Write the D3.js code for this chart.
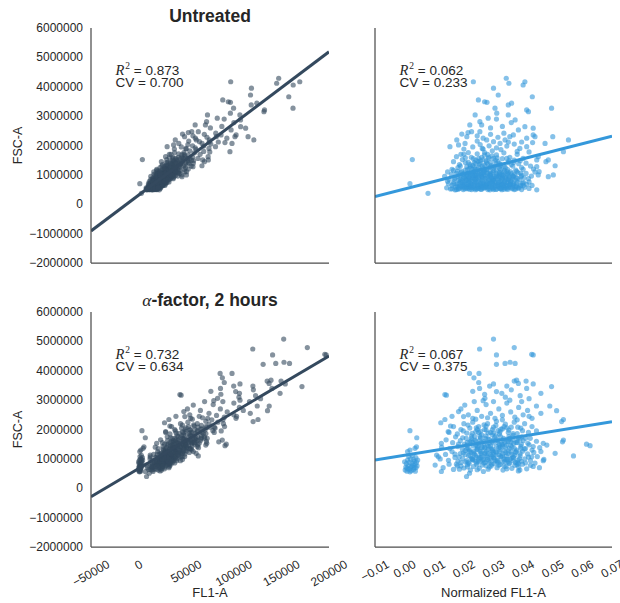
<!DOCTYPE html>
<html>
<head>
<meta charset="utf-8">
<script src="https://cdn.jsdelivr.net/npm/d3@7"></script>
<style>
  html, body { margin: 0; padding: 0; background: #fff; }
  text { font-family: "Liberation Sans", Arial, Helvetica, sans-serif; fill: #262626; }
</style>
</head>
<body>
<svg id="chart" width="620" height="603"></svg>
<script>
// Each cell: [normalized FL1-A (FL1-A / FSC-A), FSC-A in thousands]
const untreatedCells = [
  // sparse cells
  [.0026,1520],[.0018,700],[.0079,372],[.0232,4170],[.0343,4290],[.0352,4120],[.0406,4170],[.0400,4060],
  [.0300,3950],[.0270,3490],[.0278,3470],[.0249,3550],[.0316,3720],[.0350,3380],[.0361,3440],[.0431,3660],
  [.0496,3270],[.0412,3210],[.0418,3150],[.0305,3270],[.0311,3100],[.0238,3040],[.0350,3040],[.0373,2870],
  [.0254,2810],[.0282,2930],[.0214,2440],[.0226,2470],[.0193,2390],[.0254,2470],[.0384,2530],[.0406,2640],
  [.0434,2590],[.0434,2360],[.0440,2300],[.0500,2300],[.0474,2070],[.0553,2190],[.0536,1790],[.0451,1620],
  [.0477,1450],[.0485,1510],[.0502,1000],[.0485,940],[.0451,1000],[.0446,1510],[.0412,1960],[.0389,1900],
  [.0432,2100],[.0182,2020],[.0204,2070],[.0176,2190],[.0153,1960],[.0277,2190],[.0300,2130],[.0322,2070],
  [.0339,2190],[.0367,2360],[.0412,2250],[.0220,2700],[.0446,490],[.0508,1310],[.0446,1280],[.0454,1110],
  // 1.8M - 2.9M
  [.0210,2300],[.0245,2330],[.0265,2250],[.0290,2380],[.0315,2280],[.0335,2420],[.0355,2300],[.0290,2600],
  [.0330,2650],[.0260,2700],[.0360,2780],[.0310,2900],[.0200,1880],[.0230,1950],[.0255,2030],[.0285,1990],
  [.0310,1920],[.0345,1980],[.0370,2050],[.0395,2120],[.0350,2120],[.0245,2150],[.0265,1880],[.0325,1860],
  [.0380,1800],[.0420,1780],[.0215,1760],[.0190,1700],[.0296,1820],[.0262,1900],
  // 1.2M - 1.8M
  [.0165,1450],[.0175,1620],[.0185,1350],[.0195,1520],[.0200,1700],[.0210,1280],[.0215,1430],[.0225,1600],
  [.0230,1320],[.0240,1500],[.0245,1720],[.0250,1250],[.0255,1400],[.0260,1600],[.0270,1330],[.0275,1480],
  [.0280,1700],[.0285,1250],[.0290,1420],[.0300,1560],[.0305,1300],[.0310,1680],[.0315,1450],[.0325,1350],
  [.0330,1550],[.0335,1750],[.0340,1250],[.0350,1420],[.0355,1600],[.0365,1300],[.0370,1500],[.0380,1700],
  [.0385,1380],[.0395,1250],[.0400,1560],[.0410,1400],[.0425,1300],[.0435,1200],[.0180,1250],[.0205,1580],
  [.0235,1420],[.0265,1520],[.0295,1650],[.0320,1220],[.0345,1560],[.0360,1350],[.0390,1480],[.0270,1760],
  [.0220,1230],[.0250,1560],
  [.0188,1300],[.0205,1420],[.0220,1350],[.0235,1260],[.0248,1460],[.0262,1300],[.0276,1410],[.0292,1320],
  [.0306,1500],[.0320,1380],[.0336,1290],[.0352,1480],[.0368,1420],[.0240,1380],[.0300,1230],[.0283,1550],
  [.0222,1300],[.0238,1200],[.0252,1350],[.0266,1240],[.0280,1380],[.0294,1270],[.0308,1400],[.0322,1300],
  [.0256,1480],[.0284,1600],[.0312,1580],[.0270,1680],[.0232,1550],
  // 0.8M - 1.2M
  [.0135,950],[.0145,1100],[.0150,850],[.0158,1020],[.0165,1150],[.0170,900],[.0175,1050],[.0182,820],
  [.0188,980],[.0192,1130],[.0198,870],[.0203,1060],[.0208,940],[.0213,1180],[.0218,830],[.0222,1010],
  [.0228,900],[.0233,1120],[.0238,980],[.0242,860],[.0247,1070],[.0252,930],[.0257,1160],[.0262,820],
  [.0266,1000],[.0271,890],[.0276,1100],[.0281,960],[.0286,840],[.0291,1050],[.0296,920],[.0301,1140],
  [.0306,870],[.0311,1000],[.0316,930],[.0321,1090],[.0327,820],[.0332,980],[.0337,1150],[.0342,890],
  [.0347,1030],[.0353,940],[.0358,1100],[.0364,860],[.0370,1000],[.0376,920],[.0382,1080],[.0388,830],
  [.0395,980],[.0403,900],[.0410,1050],[.0418,870],[.0428,960],[.0440,1100],[.0160,1190],[.0190,1080],
  [.0215,870],[.0245,1190],[.0270,1170],[.0300,820],[.0325,1180],[.0350,850],[.0375,1160],[.0400,1190],
  [.0230,1040],[.0260,950],[.0290,990],[.0320,960],[.0350,1070],[.0280,1060],[.0240,910],[.0210,1000],
  [.0330,900],[.0365,960],
  [.0168,860],[.0180,950],[.0193,820],[.0203,900],[.0213,960],[.0223,840],[.0233,920],[.0243,990],
  [.0253,850],[.0263,910],[.0273,970],[.0283,820],[.0293,880],[.0303,950],[.0313,860],[.0323,920],
  [.0333,990],[.0343,840],[.0355,900],[.0367,960],[.0380,880],[.0393,940],[.0236,860],[.0296,800],
  [.0258,990],
  [.0178,1120],[.0195,1020],[.0205,1160],[.0218,1080],[.0228,1190],[.0240,1030],[.0252,1110],[.0264,1060],
  [.0276,1180],[.0288,1010],[.0298,1090],[.0310,1170],[.0322,1030],[.0335,1100],[.0348,1180],[.0362,1040],
  [.0378,1120],[.0392,1060],[.0268,1130],[.0232,1080],
  [.0187,850],[.0199,930],[.0209,810],[.0219,900],[.0229,980],[.0239,830],[.0249,900],[.0259,1040],
  [.0269,820],[.0279,900],[.0289,950],[.0299,870],[.0309,930],[.0319,1040],[.0329,860],[.0339,930],
  [.0349,1000],[.0359,810],[.0228,1000],[.0248,1030],[.0268,1080],[.0288,1120],[.0308,1060],[.0328,1020],
  [.0215,1050],[.0345,1120],
  // 0.48M - 0.8M
  [.0142,560],[.0148,700],[.0155,520],[.0160,640],[.0166,760],[.0171,580],[.0176,690],[.0181,510],
  [.0186,620],[.0191,740],[.0196,560],[.0201,670],[.0206,790],[.0211,530],[.0216,640],[.0221,720],
  [.0226,500],[.0231,600],[.0236,700],[.0241,560],[.0246,650],[.0251,770],[.0256,520],[.0261,620],
  [.0266,730],[.0271,570],[.0276,680],[.0281,500],[.0286,610],[.0291,750],[.0296,540],[.0301,660],
  [.0306,720],[.0311,520],[.0316,610],[.0321,780],[.0326,560],[.0331,690],[.0336,510],[.0341,640],
  [.0346,740],[.0351,570],[.0356,660],[.0362,530],[.0368,700],[.0374,600],[.0380,760],[.0386,550],
  [.0392,650],[.0398,720],[.0405,580],[.0412,680],[.0420,540],[.0430,640],[.0145,780],[.0175,500],
  [.0200,590],[.0225,780],[.0250,540],[.0275,600],[.0300,500],[.0325,640],[.0350,760],[.0375,520],
  [.0400,640],[.0420,760],[.0235,540],[.0265,680],[.0295,600],[.0335,580],[.0365,650],[.0195,690],
  [.0215,560],[.0285,700],[.0315,690],[.0255,600],[.0345,540],
  [.0170,490],[.0185,540],[.0198,500],[.0208,580],[.0219,510],[.0228,560],[.0239,495],[.0248,580],
  [.0259,505],[.0268,545],[.0279,590],[.0288,490],[.0298,560],[.0308,505],[.0318,580],[.0328,495],
  [.0338,560],[.0348,505],[.0358,590],[.0370,500],[.0382,560],[.0395,500],[.0160,530],[.0212,600],
  [.0262,580],[.0322,540],[.0378,600],
  [.0165,700],[.0178,620],[.0188,780],[.0197,640],[.0207,720],[.0217,610],[.0227,690],[.0237,770],
  [.0247,620],[.0257,700],[.0267,640],[.0277,760],[.0287,660],[.0297,720],[.0307,630],[.0317,740],
  [.0327,680],[.0337,760],[.0347,620],[.0357,720],[.0367,660],[.0377,700],[.0390,620],[.0402,740],
  [.0183,700],[.0243,730],[.0303,780],[.0333,650],[.0273,630],[.0223,660],
  [.0182,560],[.0194,610],[.0204,530],[.0214,690],[.0224,580],[.0234,640],[.0244,520],[.0254,690],
  [.0264,560],[.0274,650],[.0284,540],[.0294,700],[.0304,580],[.0314,650],[.0324,530],[.0334,710],
  [.0344,600],[.0354,680],[.0364,560],[.0202,750],[.0218,780],[.0238,750],[.0258,760],[.0278,720],
  [.0298,790],[.0318,760],[.0338,800],[.0358,770],[.0372,830]
];

const alphaFactorCells = [
  // sparse cells
  [.0300,5080],[.0253,4740],[.0370,4790],[.0429,4560],[.0434,4540],[.0310,4540],[.0339,4250],[.0356,4290],
  [.0373,4250],[.0310,4220],[.0219,3910],[.0251,3910],[.0234,3760],[.0253,3400],[.0287,3480],[.0345,3480],
  [.0384,3570],[.0378,3680],[.0434,3550],[.0412,3400],[.0141,3170],[.0310,3290],[.0328,3230],[.0460,3230],
  [.0496,3460],[.0203,2830],[.0235,2950],[.0271,3060],[.0513,2640],[.0136,2340],[.0182,2610],[.0199,2440],
  [.0530,2270],[.0536,1640],[.0570,1100],[.0468,1530],[.0480,1470],[.0468,940],[.0429,1070],[.0389,620],
  [.0384,850],[.0266,570],[.0219,510],[.0209,400],[.0124,570],[.0103,790],[.0114,1070],[.0041,1720],
  [.0018,1960],[.0136,3190],[.0614,1500],[.0626,1450],[.0508,1190],[.0533,1580],[.0490,2800],[.0122,2230],
  [.0155,2120],[.0147,1930],[.0124,1530],[.0108,1130],[.0384,590],[.0434,740],[.0536,2340],
  // low-fluorescence group
  [.0002,620],[.0008,580],[.0015,650],[.0022,600],[.0030,640],[.0038,700],[.0004,720],[.0012,760],
  [.0020,700],[.0028,780],[.0035,820],[.0042,760],[.0006,840],[.0016,880],[.0025,850],[.0033,920],
  [.0040,880],[.0010,960],[.0020,1000],[.0030,980],[.0038,1040],[.0014,1080],[.0026,1120],[.0044,960],
  [.0000,900],[.0018,560],[.0036,580],[.0008,680],[.0024,740],[.0032,700],[.0018,1300],[.0035,1360],
  [.0040,1410],[.0010,1250],
  // 0.6M - 1.0M
  [.0130,700],[.0150,820],[.0165,640],[.0178,760],[.0190,880],[.0200,690],[.0212,800],[.0222,620],
  [.0232,740],[.0242,860],[.0252,680],[.0262,790],[.0272,880],[.0282,650],[.0292,760],[.0302,840],
  [.0312,700],[.0322,810],[.0332,620],[.0342,740],[.0352,860],[.0362,680],[.0372,780],[.0385,720],
  [.0398,820],[.0412,660],[.0425,780],[.0440,860],[.0455,700],[.0185,650],[.0245,630],[.0275,770],
  [.0315,880],[.0345,660],[.0380,870],
  [.0175,820],[.0190,760],[.0205,900],[.0218,840],[.0230,960],[.0244,800],[.0256,920],[.0268,860],
  [.0280,980],[.0294,820],[.0306,940],[.0318,780],[.0330,900],[.0342,980],[.0354,840],[.0366,940],
  [.0380,800],[.0394,920],[.0408,860],[.0212,730],[.0286,720],[.0336,760],
  [.0215,880],[.0228,1000],[.0240,920],[.0252,1060],[.0264,950],[.0276,1100],[.0288,880],[.0300,1040],
  [.0312,930],[.0324,1080],[.0336,1000],[.0348,900],[.0360,1020],[.0374,880],[.0388,1010],
  // 0.9M - 1.4M
  [.0120,1000],[.0138,1150],[.0148,950],[.0160,1250],[.0170,1050],[.0180,920],[.0188,1180],[.0196,1020],
  [.0204,1280],[.0210,940],[.0216,1110],[.0224,1230],[.0230,980],[.0236,1160],[.0242,1060],[.0248,920],
  [.0254,1260],[.0260,1100],[.0266,990],[.0272,1200],[.0278,1050],[.0284,930],[.0290,1150],[.0296,1280],
  [.0302,1000],[.0308,1120],[.0314,950],[.0320,1240],[.0326,1060],[.0332,1180],[.0338,920],[.0344,1100],
  [.0350,1270],[.0356,990],[.0362,1150],[.0368,1040],[.0375,1220],[.0382,950],[.0390,1100],[.0398,1260],
  [.0406,1000],[.0415,1170],[.0425,940],[.0436,1220],[.0448,1080],[.0460,1250],[.0470,980],[.0226,1010],
  [.0258,1190],[.0292,1030],[.0318,1140],[.0346,980],[.0372,1120],[.0250,1000],[.0300,1220],
  [.0170,1160],[.0184,1060],[.0198,1200],[.0210,1340],[.0222,1100],[.0234,1260],[.0246,1380],[.0258,1050],
  [.0270,1180],[.0282,1320],[.0294,1080],[.0306,1260],[.0318,1380],[.0330,1100],[.0342,1220],[.0354,1360],
  [.0366,1060],[.0378,1300],[.0390,1180],[.0404,1340],[.0418,1060],[.0430,1300],[.0240,1120],[.0300,1150],
  [.0360,1230],[.0276,1260],[.0218,1250],
  [.0205,1150],[.0219,1300],[.0232,1200],[.0245,1340],[.0258,1240],[.0271,1400],[.0284,1180],[.0297,1330],
  [.0310,1230],[.0323,1400],[.0336,1280],[.0349,1180],[.0362,1400],[.0376,1250],[.0392,1360],
  // 1.3M - 1.8M
  [.0125,1400],[.0140,1650],[.0152,1350],[.0162,1550],[.0172,1750],[.0180,1420],[.0188,1620],[.0195,1330],
  [.0202,1500],[.0208,1700],[.0214,1380],[.0220,1580],[.0226,1780],[.0232,1440],[.0238,1640],[.0244,1320],
  [.0250,1520],[.0256,1720],[.0262,1400],[.0268,1600],[.0274,1780],[.0280,1460],[.0286,1660],[.0292,1340],
  [.0298,1540],[.0304,1740],[.0310,1420],[.0316,1620],[.0322,1320],[.0328,1500],[.0334,1700],[.0340,1400],
  [.0346,1580],[.0352,1760],[.0358,1460],[.0364,1650],[.0370,1360],[.0377,1550],[.0384,1720],[.0392,1430],
  [.0400,1620],[.0408,1350],[.0416,1530],[.0424,1700],[.0434,1420],[.0445,1600],[.0456,1380],[.0240,1480],
  [.0270,1360],[.0300,1640],[.0330,1440],[.0360,1560],[.0390,1680],[.0230,1560],[.0285,1540],
  [.0182,1500],[.0196,1720],[.0210,1460],[.0224,1620],[.0236,1760],[.0248,1440],[.0260,1560],[.0272,1700],
  [.0284,1420],[.0296,1600],[.0308,1780],[.0320,1480],[.0332,1640],[.0344,1460],[.0356,1700],[.0368,1520],
  [.0380,1620],[.0394,1500],[.0408,1700],[.0420,1480],[.0254,1640],[.0314,1560],[.0350,1600],
  [.0212,1560],[.0226,1700],[.0240,1600],[.0254,1780],[.0268,1520],[.0282,1680],[.0296,1820],[.0310,1640],
  [.0324,1760],[.0338,1560],[.0352,1680],[.0366,1800],[.0380,1560],[.0395,1750],[.0290,1450],[.0260,1380],
  [.0330,1500],
  // 1.8M - 2.3M
  [.0150,1900],[.0165,2100],[.0178,1850],[.0190,2000],[.0200,2200],[.0210,1880],[.0220,2050],[.0230,2250],
  [.0240,1920],[.0250,2100],[.0260,1820],[.0270,2000],[.0280,2200],[.0290,1900],[.0300,2080],[.0310,2280],
  [.0320,1850],[.0330,2020],[.0340,2180],[.0350,1900],[.0360,2080],[.0370,2250],[.0380,1860],[.0392,2050],
  [.0405,2200],[.0418,1900],[.0430,2100],[.0445,1950],[.0245,2000],[.0275,2120],[.0315,1960],[.0345,2060],
  [.0198,1950],[.0214,2150],[.0228,1870],[.0242,2060],[.0256,1940],[.0268,2160],[.0282,1880],[.0296,2000],
  [.0308,2140],[.0322,1920],[.0336,2100],[.0352,1980],[.0366,1860],[.0382,2080],[.0398,1960],
  [.0250,1900],[.0275,1980],[.0300,1890],[.0325,2010],
  // 2.3M - 3.7M
  [.0160,2450],[.0190,2700],[.0215,2500],[.0230,2380],[.0245,2650],[.0260,2450],[.0275,2850],[.0290,2550],
  [.0305,2380],[.0318,2700],[.0330,2480],[.0345,2900],[.0358,2600],[.0372,2420],[.0385,2750],[.0400,2500],
  [.0415,2650],[.0430,2380],[.0445,2800],[.0460,2550],[.0265,2980],[.0300,2950],[.0355,3000],[.0395,2950],
  [.0240,2350],[.0280,2400],[.0330,2330],[.0380,2330],[.0420,2450],
  [.0270,3200],[.0300,3550],[.0340,3100],[.0360,3350],[.0390,3150],[.0410,3650],[.0230,3300],[.0250,3600],
  [.0420,3050],[.0370,3650]
];

const FSC_UNIT = 1000;
const conditionTitles = ["Untreated", "-factor, 2 hours"];
const conditionCells = [untreatedCells, alphaFactorCells];

// regression fits (FSC-A = intercept + slope * x)
const rawFitIntercept = [310000, 671000];
const rawFitSlope = [24.4, 19.16];
const normFitIntercept = [517500, 1125000];
const normFitSlope = [25750000, 16300000];

const rawR2 = ["0.873", "0.732"];
const rawCV = ["0.700", "0.634"];
const normR2 = ["0.062", "0.067"];
const normCV = ["0.233", "0.375"];

const fscTicks = [6000000, 5000000, 4000000, 3000000, 2000000, 1000000, 0, -1000000, -2000000];
const fl1Ticks = [-50000, 0, 50000, 100000, 150000, 200000];
const normTicks = [-0.01, 0.00, 0.01, 0.02, 0.03, 0.04, 0.05, 0.06, 0.07];

const rawColor = "#34495e";
const normColor = "#3498db";

const svg = d3.select("#chart");
svg.append("rect").attr("width", 620).attr("height", 603).attr("fill", "#fff");

const colX = [[91, 329], [375, 612]];
const rowY = [[28, 263], [312, 547]];

const fmtInt = d3.format("d");
const fmtNorm = d3.format(".2f");

function panel(row, col) {
  const [x0, x1] = colX[col];
  const [y0, y1] = rowY[row];
  const normalized = col === 1;
  const color = normalized ? normColor : rawColor;
  const cells = conditionCells[row];

  const x = d3.scaleLinear()
    .domain(normalized ? [-0.01, 0.07] : [-50000, 200000])
    .range([x0, x1]);
  const y = d3.scaleLinear().domain([-2000000, 6000000]).range([y1, y0]);

  const clipId = `clip-${row}-${col}`;
  svg.append("clipPath").attr("id", clipId)
    .append("rect").attr("x", x0).attr("y", y0).attr("width", x1 - x0).attr("height", y1 - y0);

  const g = svg.append("g").attr("clip-path", `url(#${clipId})`);

  const xVal = d => normalized ? d[0] : d[0] * d[1] * FSC_UNIT;
  const yVal = d => d[1] * FSC_UNIT;

  g.append("g").selectAll("circle").data(cells).join("circle")
    .attr("cx", d => x(xVal(d)))
    .attr("cy", d => y(yVal(d)))
    .attr("r", 2.6)
    .attr("fill", color)
    .attr("fill-opacity", 0.6);

  const b = normalized ? normFitIntercept[row] : rawFitIntercept[row];
  const m = normalized ? normFitSlope[row] : rawFitSlope[row];
  const [dx0, dx1] = x.domain();
  g.append("line")
    .attr("x1", x(dx0)).attr("y1", y(b + m * dx0))
    .attr("x2", x(dx1)).attr("y2", y(b + m * dx1))
    .attr("stroke", color).attr("stroke-width", 3);

  // spines
  const axisColor = "#4d4d4d";
  svg.append("line").attr("x1", x0).attr("x2", x0).attr("y1", y0).attr("y2", y1)
    .attr("stroke", axisColor).attr("stroke-width", 1.25);
  svg.append("line").attr("x1", x0).attr("x2", x1).attr("y1", y1).attr("y2", y1)
    .attr("stroke", axisColor).attr("stroke-width", 1.25);

  // y tick labels on the left column
  if (!normalized) {
    svg.append("g").selectAll("text").data(fscTicks).join("text")
      .attr("x", x0 - 8).attr("y", d => y(d))
      .attr("text-anchor", "end").attr("dominant-baseline", "central")
      .attr("font-size", 12).text(d => fmtInt(d));
    svg.append("text")
      .attr("transform", `translate(22,${(y0 + y1) / 2}) rotate(-90)`)
      .attr("text-anchor", "middle").attr("font-size", 12.5).text("FSC-A");
  }

  // x tick labels on the bottom row
  if (row === 1) {
    const ticks = normalized ? normTicks : fl1Ticks;
    const fmt = normalized ? fmtNorm : fmtInt;
    svg.append("g").selectAll("text").data(ticks).join("text")
      .attr("text-anchor", "middle").attr("dominant-baseline", "central")
      .attr("font-size", 12).text(d => fmt(d))
      .each(function (d) {
        const w = this.getComputedTextLength();
        const h = w * 0.5 + 12 * 0.866;
        const cy = y1 + 11 + h / 2;
        d3.select(this).attr("transform", `translate(${x(d)},${cy}) rotate(-30)`);
      });
    svg.append("text")
      .attr("x", (x0 + x1) / 2).attr("y", 597)
      .attr("text-anchor", "middle").attr("font-size", 13)
      .text(normalized ? "Normalized FL1-A" : "FL1-A");
  }

  // fit statistics
  const tx = x0 + 24.5;
  const r2 = normalized ? normR2[row] : rawR2[row];
  const cv = normalized ? normCV[row] : rawCV[row];
  const t1 = svg.append("text").attr("x", tx).attr("y", y0 + 46.5).attr("font-size", 13.5);
  t1.append("tspan").attr("font-family", "'Liberation Serif', 'DejaVu Serif', serif")
    .attr("font-style", "italic").attr("font-size", 14.5).text("R");
  t1.append("tspan").attr("font-family", "'Liberation Serif', 'DejaVu Serif', serif")
    .attr("font-size", 9.5).attr("dy", -5.5).attr("dx", 1).text("2");
  t1.append("tspan").attr("dy", 5.5).text(" = " + r2);
  svg.append("text").attr("x", tx).attr("y", y0 + 58.5).attr("font-size", 13.5)
    .text("CV = " + cv);

  // condition title above the left column
  if (!normalized) {
    const title = svg.append("text")
      .attr("x", (x0 + x1) / 2).attr("y", y0 - 6)
      .attr("text-anchor", "middle").attr("font-size", 17.5).attr("font-weight", "bold");
    if (row === 1) {
      title.append("tspan").attr("font-family", "'Liberation Serif', 'DejaVu Serif', serif")
        .attr("font-style", "italic").attr("font-weight", "normal").text("α");
    }
    title.append("tspan").text(conditionTitles[row]);
  }
}

for (let r = 0; r < 2; r++) for (let c = 0; c < 2; c++) panel(r, c);
</script>
</body>
</html>
